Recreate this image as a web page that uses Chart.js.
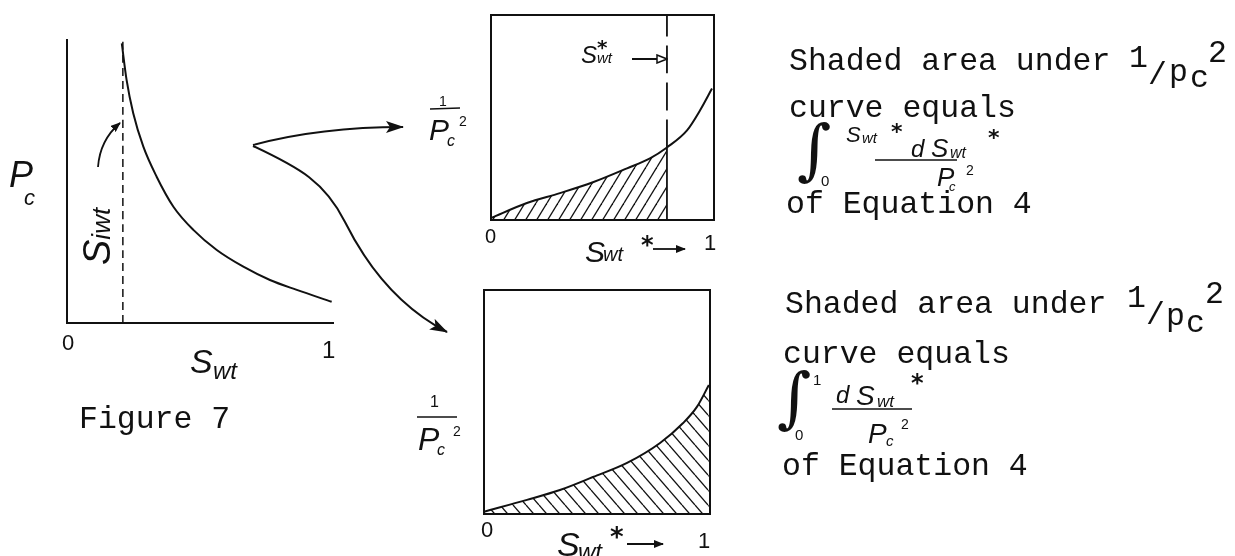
<!DOCTYPE html>
<html>
<head>
<meta charset="utf-8">
<script src="https://cdn.jsdelivr.net/npm/chart.js@4/dist/chart.umd.min.js"></script>
<style>
  html, body { margin: 0; padding: 0; background: #fff; }
  #page { position: relative; width: 1235px; height: 556px; overflow: hidden; background: #fff; }
  canvas { position: absolute; }
  #pc { left: 57px; top: 30px; }
  #upper { left: 481px; top: 5px; }
  #lower { left: 474px; top: 280px; }
  svg { position: absolute; left: 0; top: 0; }
  .typed { font-family: 'Liberation Mono', monospace; font-size: 31.5px; fill: #111; }
  .hand { font-family: 'Liberation Sans', sans-serif; font-style: italic; fill: #111; }
  .num { font-family: 'Liberation Sans', sans-serif; fill: #111; }
  .star { font-family: 'DejaVu Sans', sans-serif; font-weight: bold; fill: #111; }
  .integral { font-family: 'DejaVu Serif', serif; fill: #111; }
</style>
</head>
<body>
<div id="page">
  <canvas id="pc" width="286" height="303"></canvas>
  <canvas id="upper" width="243" height="225"></canvas>
  <canvas id="lower" width="246" height="244"></canvas>

  <svg width="1235" height="556">
    <defs>
      <marker id="bigHead" markerWidth="18" markerHeight="12" refX="17" refY="6" orient="auto" markerUnits="userSpaceOnUse">
        <path d="M0,0 L18,6 L0,12 L4,6 z" fill="#111"/>
      </marker>
      <marker id="smallHead" markerWidth="10" markerHeight="8" refX="9" refY="4" orient="auto" markerUnits="userSpaceOnUse">
        <path d="M0,0 L10,4 L0,8 z" fill="#111"/>
      </marker>
      <marker id="openHead" markerWidth="12" markerHeight="10" refX="11" refY="5" orient="auto" markerUnits="userSpaceOnUse">
        <path d="M1,1 L11,5 L1,9 z" fill="#fff" stroke="#111" stroke-width="1.5"/>
      </marker>
    </defs>

    <!-- left panel: Pc vs Swt -->
    <text class="hand" x="9" y="187" font-size="36">P</text>
    <text class="hand" x="24" y="205" font-size="22">c</text>
    <g transform="translate(110,265) rotate(-90)">
      <text class="hand" x="0" y="0" font-size="38">S<tspan font-size="26">iwt</tspan></text>
    </g>
    <path d="M98,167 Q100,140 120,123" fill="none" stroke="#111" stroke-width="1.8" marker-end="url(#smallHead)"/>
    <text class="num" x="62" y="350" font-size="22">0</text>
    <text class="num" x="322" y="358" font-size="24">1</text>
    <text class="hand" x="190" y="373" font-size="34">S</text>
    <text class="hand" x="213" y="379" font-size="24">wt</text>
    <text class="typed" x="79" y="428">Figure 7</text>

    <!-- arrows between panels -->
    <path d="M253,145 Q320,127 403,127" fill="none" stroke="#111" stroke-width="2" marker-end="url(#bigHead)"/>
    <path d="M253,146 C300,168 325,182 345,222 C365,262 395,305 447,332" fill="none" stroke="#111" stroke-width="2" marker-end="url(#bigHead)"/>

    <!-- upper panel labels -->
    <text class="num" x="439" y="106" font-size="14">1</text>
    <path d="M430,109 L460,108" stroke="#111" stroke-width="1.6"/>
    <text class="hand" x="429" y="140" font-size="30">P</text>
    <text class="hand" x="447" y="146" font-size="16">c</text>
    <text class="num" x="459" y="126" font-size="14">2</text>
    <text class="hand" x="581" y="63" font-size="24">S</text>
    <text class="hand" x="597" y="63" font-size="15">wt</text>
    <text class="star" x="597" y="54" font-size="20">*</text>
    <path d="M632,59 L667,59" stroke="#111" stroke-width="1.8" marker-end="url(#openHead)"/>
    <text class="num" x="485" y="243" font-size="20">0</text>
    <text class="hand" x="585" y="262" font-size="30">S</text>
    <text class="hand" x="603" y="261" font-size="20">wt</text>
    <text class="star" x="641" y="253" font-size="24">*</text>
    <path d="M653,249 L685,249" stroke="#111" stroke-width="1.8" marker-end="url(#smallHead)"/>
    <text class="num" x="704" y="250" font-size="22">1</text>

    <!-- lower panel labels -->
    <text class="num" x="430" y="407" font-size="16">1</text>
    <path d="M417,417 L457,417" stroke="#111" stroke-width="1.6"/>
    <text class="hand" x="418" y="450" font-size="32">P</text>
    <text class="hand" x="437" y="455" font-size="16">c</text>
    <text class="num" x="453" y="436" font-size="14">2</text>
    <text class="num" x="481" y="537" font-size="22">0</text>
    <text class="hand" x="557" y="556" font-size="34">S</text>
    <text class="hand" x="578" y="560" font-size="24">wt</text>
    <text class="star" x="610" y="546" font-size="26">*</text>
    <path d="M627,544 L663,544" stroke="#111" stroke-width="1.8" marker-end="url(#smallHead)"/>
    <text class="num" x="698" y="548" font-size="22">1</text>

    <!-- right notes, first block -->
    <text class="typed" x="789" y="70">Shaded area under</text>
    <text class="typed" x="1129" y="67">1</text>
    <text class="typed" x="1148" y="84">/</text>
    <text class="typed" x="1169" y="81">p</text>
    <text class="typed" x="1190" y="87">c</text>
    <text class="typed" x="1208" y="62">2</text>
    <text class="typed" x="789" y="117">curve equals</text>
    <text class="integral" x="797" y="172" font-size="66">∫</text>
    <text class="num" x="821" y="186" font-size="15">0</text>
    <text class="hand" x="846" y="142" font-size="22">S</text>
    <text class="hand" x="862" y="143" font-size="15">wt</text>
    <text class="star" x="891" y="139" font-size="22">*</text>
    <text class="hand" x="911" y="157" font-size="24">d</text>
    <text class="hand" x="931" y="157" font-size="26">S</text>
    <text class="hand" x="950" y="158" font-size="16">wt</text>
    <text class="star" x="988" y="145" font-size="22">*</text>
    <path d="M875,160 L957,160" stroke="#111" stroke-width="1.4"/>
    <text class="hand" x="937" y="186" font-size="26">P</text>
    <text class="hand" x="949" y="191" font-size="13">c</text>
    <text class="num" x="966" y="175" font-size="14">2</text>
    <text class="typed" x="786" y="213">of Equation 4</text>

    <!-- right notes, second block -->
    <text class="typed" x="785" y="313">Shaded area under</text>
    <text class="typed" x="1127" y="307">1</text>
    <text class="typed" x="1146" y="324">/</text>
    <text class="typed" x="1166" y="325">p</text>
    <text class="typed" x="1186" y="332">c</text>
    <text class="typed" x="1205" y="303">2</text>
    <text class="typed" x="783" y="363">curve equals</text>
    <text class="integral" x="777" y="420" font-size="66">∫</text>
    <text class="num" x="813" y="385" font-size="15">1</text>
    <text class="num" x="795" y="440" font-size="15">0</text>
    <text class="hand" x="836" y="403" font-size="24">d</text>
    <text class="hand" x="856" y="405" font-size="28">S</text>
    <text class="hand" x="877" y="407" font-size="17">wt</text>
    <text class="star" x="911" y="391" font-size="24">*</text>
    <path d="M832,409 L912,409" stroke="#111" stroke-width="1.4"/>
    <text class="hand" x="868" y="443" font-size="28">P</text>
    <text class="hand" x="886" y="446" font-size="15">c</text>
    <text class="num" x="901" y="429" font-size="14">2</text>
    <text class="typed" x="782" y="475">of Equation 4</text>
  </svg>
</div>

<script>
// capillary pressure curve, Pc against Swt (left panel)
const pcSw  = [0.206, 0.224, 0.249, 0.287, 0.337, 0.4, 0.475, 0.563, 0.663, 0.763, 0.864, 0.995];
const pcVal = [0.988, 0.859, 0.741, 0.623, 0.517, 0.411, 0.329, 0.258, 0.199, 0.152, 0.117, 0.075];
const swiLeft = 0.21;

// 1/Pc^2 against Swt* (upper panel, shaded up to swStar)
const upperSw  = [0, 0.161, 0.309, 0.457, 0.61, 0.713, 0.789, 0.879, 0.937, 0.991];
const upperInv = [0.01, 0.083, 0.131, 0.184, 0.252, 0.301, 0.354, 0.437, 0.534, 0.641];
const swStar = 0.789;

// 1/Pc^2 against Swt* (lower panel, shaded over the whole range)
const lowerSw  = [0, 0.19, 0.336, 0.482, 0.633, 0.779, 0.881, 0.942, 0.995];
const lowerInv = [0.01, 0.063, 0.107, 0.165, 0.228, 0.317, 0.406, 0.478, 0.576];

const INK = '#111';

function toPoints(xs, ys) {
    return xs.map((x, i) => ({ x: x, y: ys[i] }));
}

// diagonal hatching tile; dir '/' or '\\'
function hatch(canvasId, w, h, dir) {
    let tile = document.createElement('canvas');
    tile.width = w;
    tile.height = h;
    let t = tile.getContext('2d');
    t.strokeStyle = INK;
    t.lineWidth = 1.3;
    for (let k = -1; k <= 1; k++) {
        t.beginPath();
        if (dir === '/') {
            t.moveTo(k * w, h);
            t.lineTo((k + 1) * w, 0);
        } else {
            t.moveTo(k * w, 0);
            t.lineTo((k + 1) * w, h);
        }
        t.stroke();
    }
    return document.getElementById(canvasId).getContext('2d').createPattern(tile, 'repeat');
}

// draws the panel outline on the chart area edges
const framePlugin = {
    id: 'frame',
    afterDatasetsDraw(chart, args, opts) {
        const { ctx, chartArea: a } = chart;
        ctx.save();
        ctx.strokeStyle = INK;
        ctx.lineWidth = 2;
        ctx.lineCap = 'square';
        ctx.beginPath();
        if (opts.sides.includes('left'))   { ctx.moveTo(a.left, a.top);  ctx.lineTo(a.left, a.bottom); }
        if (opts.sides.includes('bottom')) { ctx.moveTo(a.left, a.bottom); ctx.lineTo(a.right, a.bottom); }
        if (opts.sides.includes('top'))    { ctx.moveTo(a.left, a.top);  ctx.lineTo(a.right, a.top); }
        if (opts.sides.includes('right'))  { ctx.moveTo(a.right, a.top); ctx.lineTo(a.right, a.bottom); }
        ctx.stroke();
        ctx.restore();
    }
};

function lineSet(data, extra) {
    return Object.assign({
        data: data,
        showLine: true,
        borderColor: INK,
        borderWidth: 2,
        pointRadius: 0,
        fill: false,
        clip: false,
        cubicInterpolationMode: 'monotone'
    }, extra || {});
}

function makeChart(id, datasets, sides) {
    return new Chart(document.getElementById(id), {
        type: 'scatter',
        data: { datasets: datasets },
        options: {
            responsive: false,
            animation: false,
            devicePixelRatio: 1,
            events: [],
            layout: { padding: 10 },
            scales: {
                x: { type: 'linear', min: 0, max: 1, display: false },
                y: { type: 'linear', min: 0, max: 1, display: false }
            },
            plugins: {
                legend: { display: false },
                tooltip: { enabled: false },
                frame: { sides: sides }
            }
        },
        plugins: [framePlugin]
    });
}

// left panel
makeChart('pc', [
    lineSet(toPoints(pcSw, pcVal)),
    lineSet([{ x: swiLeft, y: 0 }, { x: swiLeft, y: 1 }], { borderWidth: 1.5, borderDash: [8, 5] })
], ['left', 'bottom']);

// upper panel
let starIdx = upperSw.indexOf(swStar);
let starVal = upperInv[starIdx];
makeChart('upper', [
    lineSet(toPoints(upperSw.slice(0, starIdx + 1), upperInv.slice(0, starIdx + 1)),
        { borderWidth: 0, fill: 'origin', backgroundColor: hatch('upper', 11, 18, '/') }),
    lineSet(toPoints(upperSw, upperInv)),
    lineSet([{ x: swStar, y: 0 }, { x: swStar, y: starVal }], { borderWidth: 1.8 }),
    lineSet([{ x: swStar, y: starVal }, { x: swStar, y: 1 }], { borderWidth: 1.8, borderDash: [28, 9] })
], ['left', 'bottom', 'top', 'right']);

// lower panel
makeChart('lower', [
    lineSet(toPoints(lowerSw, lowerInv), { fill: 'origin', backgroundColor: hatch('lower', 13, 15, '\\') })
], ['left', 'bottom', 'top', 'right']);
</script>
</body>
</html>
